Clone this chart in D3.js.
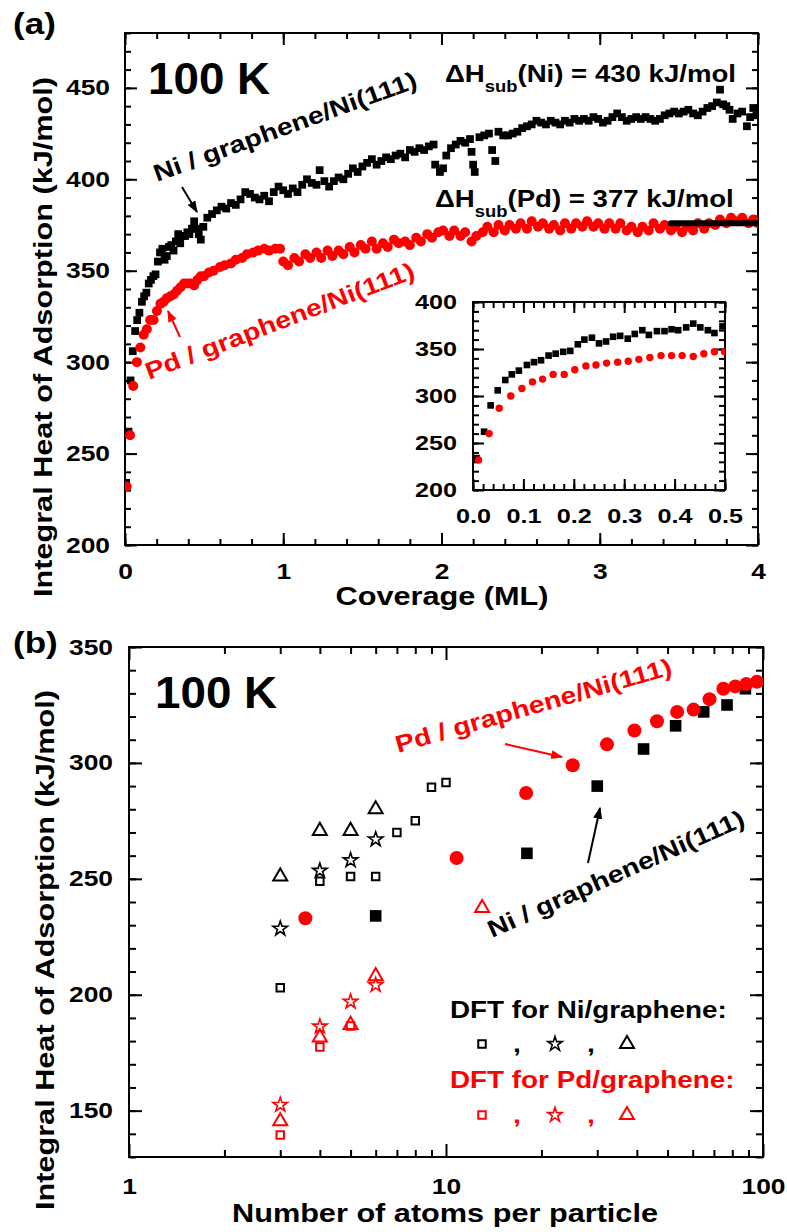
<!DOCTYPE html>
<meta charset="utf-8">
<style>
body { margin: 0; background-color: #fff; }
svg text { font-family: "Liberation Sans", Arial, Helvetica, sans-serif; font-weight: bold; }
</style>
<svg width="787" height="1232"></svg>
<script src="https://d3js.org/d3.v7.min.js"></script>
<script>
// ---------- panel (a): integral heat vs coverage ----------
var niCov = [0.007,0.022,0.035,0.049,0.064,0.077,0.091,0.107,0.121,0.135,0.150,0.164,0.179,0.193,0.208,0.221,0.236,0.250,0.264,0.278,0.292,0.307,0.321,0.336,0.349,0.365,0.380,0.394,0.407,0.423,0.437,0.451,0.466,0.479,0.495,
  0.52,0.55,0.58,0.61,0.64,0.67,0.70,0.73,0.76,0.79,0.82,0.85,0.88,0.91,0.94,0.97,1.00,1.03,1.06,1.09,1.12,1.15,1.18,1.21,1.23,
  1.26,1.29,1.32,1.35,1.38,1.41,1.44,1.47,1.50,1.53,1.56,1.59,1.62,1.65,1.68,1.71,1.74,1.77,1.80,1.83,1.86,1.89,1.92,1.95,
  1.96,1.99,2.01,2.03,2.06,2.09,2.12,2.15,2.18,2.19,2.20,2.21,2.24,2.27,2.30,2.32,2.34,2.36,2.39,2.42,2.45,2.48,
  2.51,2.54,2.57,2.60,2.63,2.66,2.69,2.72,2.75,2.78,2.81,2.84,2.87,2.90,2.93,2.96,2.99,
  3.02,3.05,3.08,3.11,3.14,3.17,3.20,3.23,3.26,3.29,3.32,3.35,3.38,3.41,3.44,3.47,3.50,3.53,3.56,3.59,
  3.62,3.65,3.68,3.71,3.74,3.76,3.78,3.80,3.82,3.84,3.87,3.90,3.93,3.95,3.97,3.99];
var niHeat = [234,262,290,306,317,323,327,333,336,338,343,345,347,348,355,360,362,356,358,363,364,361,366,370,365,369,369,371,370,373,377,373,370,367,374,
  379,381,383,385,384,387,386,389,393,392,390,389,391,388,393,396,394,392,395,393,397,400,398,397,405,
  399,396,399,401,400,403,406,404,407,409,411,408,410,412,411,413,414,412,416,415,417,416,418,419,
  408,404,406,413,417,419,421,420,422,415,408,404,423,424,425,416,410,426,424,424,425,426,
  428,429,430,432,431,430,432,431,430,432,431,433,432,433,432,434,433,
  431,432,434,436,434,432,433,434,433,434,433,432,433,435,436,437,436,437,438,436,
  435,437,439,440,442,449,441,440,438,433,436,437,429,434,439,435];

var pdCov = [0.011,0.032,0.052,0.075,0.097,0.118,0.138,0.159,0.181,0.202,0.224,0.244,0.265,0.287,0.308,0.329,0.351,0.373,0.394,0.415,0.437,0.458,0.479,0.499,
  0.53,0.56,0.60,0.63,0.67,0.70,0.74,0.77,0.81,0.84,0.88,0.91,0.95,0.98,
  1.00,1.03,1.07,1.10,1.14,1.17,1.21,1.24,1.28,1.31,1.35,1.38,1.42,1.45,1.49,1.52,1.56,1.59,1.63,1.66,1.70,1.73,1.77,1.80,1.84,1.87,1.91,1.94,1.98,
  2.01,2.05,2.08,2.12,2.15,2.19,2.22,2.26,2.29,2.33,2.36,2.40,2.43,2.47,2.50,2.54,2.57,2.61,2.64,2.68,2.71,2.75,2.78,2.82,2.85,2.89,2.92,2.96,2.99,
  3.03,3.06,3.10,3.13,3.17,3.20,3.24,3.27,3.31,3.34,3.38,3.41,3.45,3.48,3.52,3.55,3.59,3.62,3.66,3.69,3.73,3.76,3.80,3.83,3.87,3.90,3.94,3.97,4.00];
var pdHeat = [232,260,287,300,308,315,318,323,323,328,332,333,335,336,337,339,341,343,343,343,342,345,347,347,
  349,350,352,353,354,356,357,359,360,361,362,361,362,362,
  355,353,357,355,359,357,360,357,361,358,361,359,363,360,364,362,366,362,365,363,367,365,366,364,368,366,370,368,371,
  372,369,372,369,371,366,369,371,374,371,375,372,375,373,376,373,377,374,376,373,375,372,376,373,376,374,377,374,376,
  373,376,373,376,372,374,371,374,372,376,373,375,372,374,371,374,372,376,373,376,375,378,376,379,377,379,376,378,376];

var subNiLabel = "(Ni) = 430 kJ/mol";
var subPdLabel = "(Pd) = 377 kJ/mol";
var subPdCov = [3.45, 4.0];   // black bar marking the Pd sublimation enthalpy
var subPdHeat = 376;

var aXTicks = [0, 1, 2, 3, 4];
var aYTicks = [200, 250, 300, 350, 400, 450];
var insetXTicks = [0, 0.1, 0.2, 0.3, 0.4, 0.5];
var insetYTicks = [200, 250, 300, 350, 400];

// ---------- panel (b): integral heat vs particle size ----------
var niAtoms = [6, 18, 30, 42, 53, 65, 77, 88];
var niAtomsHeat = [234, 261, 290, 306, 316, 322, 325, 332];
var pdAtoms = [3.6, 10.8, 17.9, 25.1, 32.2, 39.3, 46.3, 53.6, 60.4, 67.8, 75, 81.8, 88.6, 95.7];
var pdAtomsHeat = [233, 259, 287, 299, 308, 314, 318, 322, 323, 327.5, 332, 333, 334, 335];

var dftNiSqN = [3, 4, 5, 6, 7, 8, 9, 10];
var dftNiSq = [203, 249, 251, 251, 270, 275, 289.5, 291.5];
var dftNiStarN = [3, 4, 5, 6];
var dftNiStar = [228.5, 253.5, 258, 267];
var dftNiTriN = [3, 4, 5, 6];
var dftNiTri = [251, 270.7, 270.7, 280];
var dftPdSqN = [3, 4, 5];
var dftPdSq = [139.5, 177.5, 186.5];
var dftPdStarN = [3, 4, 5, 6];
var dftPdStar = [152.5, 186.3, 197, 204.2];
var dftPdTriN = [3, 4, 5, 6, 13];
var dftPdTri = [145.4, 181.6, 187, 208, 237.4];

var bXTicks = [1, 10, 100];
var bYTicks = [150, 200, 250, 300, 350];

var RED = "#ff0000";
var svg = d3.select("svg");

var xA = d3.scaleLinear().domain([0, 4]).range([125, 758]);
var yA = d3.scaleLinear().domain([200, 480]).range([545, 33]);
var xI = d3.scaleLinear().domain([0, 0.5]).range([473, 725]);
var yI = d3.scaleLinear().domain([200, 400]).range([490, 302]);
var xB = d3.scaleLog().domain([1, 100]).range([129, 763]);
var yB = d3.scaleLinear().domain([130, 350]).range([1157, 647]);

var defs = svg.append("defs");
[["ahK", "#000"], ["ahR", RED]].forEach(function(m) {
  defs.append("marker").attr("id", m[0]).attr("viewBox", "0 0 10 10")
    .attr("refX", 9).attr("refY", 5).attr("markerWidth", 12).attr("markerHeight", 12)
    .attr("markerUnits", "userSpaceOnUse").attr("orient", "auto")
    .append("path").attr("d", "M0,1.2L10,5L0,8.8Z").attr("fill", m[1]);
});
function clip(id, x, y) {
  defs.append("clipPath").attr("id", id).append("rect")
    .attr("x", x.range()[0]).attr("y", y.range()[1])
    .attr("width", x.range()[1] - x.range()[0]).attr("height", y.range()[0] - y.range()[1]);
}
clip("clipA", xA, yA); clip("clipI", xI, yI); clip("clipB", xB, yB);

function label(g, x, y, str, o) {
  o = o || {};
  return g.append("text")
    .attr("transform", "translate(" + x + "," + y + ") rotate(" + (o.rot || 0) + ") scale(" + (o.sx || 1.18) + ",1)")
    .attr("font-size", o.size || 24)
    .attr("fill", o.color || "#000")
    .attr("text-anchor", o.anchor || "start")
    .text(str);
}

function axes(g, x, y, o) {
  var xl = x.range()[0], xr = x.range()[1], yb = y.range()[0], yt = y.range()[1];
  g.append("rect").attr("x", xl).attr("y", yt).attr("width", xr - xl).attr("height", yb - yt)
    .attr("fill", o.fill || "none").attr("stroke", "#000").attr("stroke-width", 2);
  var sides = [
    [d3.axisBottom(x), 0, yb, o.xMajor, o.xMinor, o.xFmt, o.xPad],
    [d3.axisTop(x), 0, yt, o.xMajor, o.xMinor, null, 0],
    [d3.axisLeft(y), xl, 0, o.yMajor, o.yMinor, o.yFmt, o.yPad],
    [d3.axisRight(y), xr, 0, o.yMajor, o.yMinor, null, 0]
  ];
  sides.forEach(function(s) {
    [[s[4], o.minorLen, null], [s[3], o.majorLen, s[5]]].forEach(function(t) {
      var ax = s[0].tickValues(t[0]).tickSize(-t[1]).tickSizeOuter(0).tickPadding(s[6])
        .tickFormat(t[2] || function() { return ""; });
      var sel = g.append("g").attr("transform", "translate(" + s[1] + "," + s[2] + ")").call(ax)
        .attr("font-family", null).attr("font-size", null);
      sel.select(".domain").remove();
      sel.selectAll("line").attr("stroke", "#000").attr("stroke-width", 2);
      sel.selectAll("text").attr("font-size", o.fontSize).attr("fill", "#000")
        .attr("transform", function() {
          var xx = +d3.select(this).attr("x") || 0;
          return "translate(" + xx + ",0) scale(1.2,1) translate(" + (-xx) + ",0)";
        });
    });
  });
}

var sq = function(size) { return d3.symbol().type(d3.symbolSquare).size(size)(); };
var star = function(size) { return d3.symbol().type(d3.symbolStar).size(size)(); };
var tri = function(size) { return d3.symbol().type(d3.symbolTriangle).size(size)(); };

function points(g, xs, ys, x, y, path, fill, stroke, sw) {
  g.selectAll(null).data(xs).enter().append("path")
    .attr("d", path)
    .attr("transform", function(d, i) { return "translate(" + x(d) + "," + y(ys[i]) + ")"; })
    .attr("fill", fill).attr("stroke", stroke || "none").attr("stroke-width", stroke ? (sw || 2) : 0)
    .attr("stroke-linejoin", "miter");
}
function dots(g, xs, ys, x, y, r, fill) {
  g.selectAll(null).data(xs).enter().append("circle")
    .attr("cx", function(d) { return x(d); })
    .attr("cy", function(d, i) { return y(ys[i]); })
    .attr("r", r).attr("fill", fill);
}

// ================= panel (a) =================
var gA = svg.append("g");
axes(gA, xA, yA, {
  xMajor: aXTicks, xMinor: d3.range(0, 4.01, 0.2), yMajor: aYTicks, yMinor: d3.range(200, 481, 10),
  majorLen: 12, minorLen: 6, fontSize: 22, xPad: 18, yPad: 15,
  xFmt: d3.format("d"), yFmt: d3.format("d")
});
var dA = gA.append("g").attr("clip-path", "url(#clipA)");
points(dA, niCov, niHeat, xA, yA, sq(60), "#000");
dots(dA, pdCov, pdHeat, xA, yA, 5, RED);
dA.append("line")
  .attr("x1", xA(subPdCov[0])).attr("x2", xA(subPdCov[1]))
  .attr("y1", yA(subPdHeat)).attr("y2", yA(subPdHeat))
  .attr("stroke", "#000").attr("stroke-width", 6).attr("stroke-linecap", "round");

// inset
var gI = svg.append("g");
axes(gI, xI, yI, {
  fill: "#fff",
  xMajor: insetXTicks, xMinor: d3.range(0, 0.501, 0.02), yMajor: insetYTicks, yMinor: d3.range(200, 401, 10),
  majorLen: 11, minorLen: 6, fontSize: 21, xPad: 18, yPad: 16,
  xFmt: d3.format(".1f"), yFmt: d3.format("d")
});
var dI = gI.append("g").attr("clip-path", "url(#clipI)");
var inNi = niCov.map(function(c, i) { return i; }).filter(function(i) { return niCov[i] <= 0.5; });
var inPd = pdCov.map(function(c, i) { return i; }).filter(function(i) { return pdCov[i] <= 0.5; });
points(dI, inNi.map(function(i) { return niCov[i]; }), inNi.map(function(i) { return niHeat[i]; }), xI, yI, sq(44), "#000");
dots(dI, inPd.map(function(i) { return pdCov[i]; }), inPd.map(function(i) { return pdHeat[i]; }), xI, yI, 3.7, RED);

// texts (a)
label(gA, 13, 34, "(a)", { size: 30, sx: 1.17 });
label(gA, 148, 94, "100 K", { size: 44, sx: 1.04 });
label(gA, 52, 337, "Integral Heat of Adsorption (kJ/mol)", { size: 26, rot: -90, anchor: "middle" });
label(gA, 442, 605, "Coverage (ML)", { size: 26, anchor: "middle" });
label(gA, 157, 182, "Ni / graphene/Ni(111)", { rot: -20 });
label(gA, 149, 380, "Pd / graphene/Ni(111)", { rot: -21, color: RED });

function subText(g, x, y, tail) {
  var t = g.append("text").attr("transform", "translate(" + x + "," + y + ") scale(1.15,1)")
    .attr("font-size", 24).attr("fill", "#000");
  t.append("tspan").text("\u0394H");
  t.append("tspan").attr("font-size", 16).attr("dy", 10).text("sub");
  t.append("tspan").attr("dy", -10).text(tail);
}
subText(gA, 445, 82, subNiLabel);
subText(gA, 435, 207, subPdLabel);

gA.append("line").attr("x1", 182).attr("y1", 187).attr("x2", 197).attr("y2", 212)
  .attr("stroke", "#000").attr("stroke-width", 2).attr("marker-end", "url(#ahK)");
gA.append("line").attr("x1", 180).attr("y1", 337).attr("x2", 168).attr("y2", 311)
  .attr("stroke", RED).attr("stroke-width", 2).attr("marker-end", "url(#ahR)");

// ================= panel (b) =================
var gB = svg.append("g");
var logMinor = [2, 3, 4, 5, 6, 7, 8, 9, 20, 30, 40, 50, 60, 70, 80, 90];
axes(gB, xB, yB, {
  xMajor: bXTicks, xMinor: logMinor, yMajor: bYTicks, yMinor: d3.range(130, 351, 10),
  majorLen: 13, minorLen: 7, fontSize: 22, xPad: 21, yPad: 16,
  xFmt: d3.format("d"), yFmt: d3.format("d")
});
var dB = gB.append("g").attr("clip-path", "url(#clipB)");
points(dB, niAtoms, niAtomsHeat, xB, yB, sq(135), "#000");
dots(dB, pdAtoms, pdAtomsHeat, xB, yB, 7, RED);
points(dB, dftNiSqN, dftNiSq, xB, yB, sq(56), "none", "#000");
points(dB, dftNiStarN, dftNiStar, xB, yB, star(65), "none", "#000", 1.6);
points(dB, dftNiTriN, dftNiTri, xB, yB, tri(85), "none", "#000");
points(dB, dftPdSqN, dftPdSq, xB, yB, sq(56), "none", RED);
points(dB, dftPdStarN, dftPdStar, xB, yB, star(65), "none", RED, 1.6);
points(dB, dftPdTriN, dftPdTri, xB, yB, tri(85), "none", RED);

label(gB, 13, 653, "(b)", { size: 30, sx: 1.17 });
label(gB, 155, 708, "100 K", { size: 44, sx: 1.04 });
label(gB, 54, 950, "Integral Heat of Adsorption (kJ/mol)", { size: 26, rot: -90, anchor: "middle" });
label(gB, 445, 1222, "Number of atoms per particle", { size: 26, anchor: "middle" });
label(gB, 398, 753, "Pd / graphene/Ni(111)", { rot: -16, color: RED });
label(gB, 492, 938, "Ni / graphene/Ni(111)", { rot: -24 });

gB.append("line").attr("x1", 505).attr("y1", 744).attr("x2", 562).attr("y2", 757)
  .attr("stroke", RED).attr("stroke-width", 2).attr("marker-end", "url(#ahR)");
gB.append("line").attr("x1", 588).attr("y1", 863).attr("x2", 600).attr("y2", 808)
  .attr("stroke", "#000").attr("stroke-width", 2).attr("marker-end", "url(#ahK)");

// legend
label(gB, 450, 1018, "DFT for Ni/graphene:", { sx: 1.16 });
label(gB, 450, 1088, "DFT for Pd/graphene:", { sx: 1.16, color: RED });
[[1044, "#000"], [1115, RED]].forEach(function(row) {
  var yy = row[0], c = row[1];
  gB.append("path").attr("d", sq(56)).attr("transform", "translate(482," + yy + ")")
    .attr("fill", "none").attr("stroke", c).attr("stroke-width", 2);
  gB.append("path").attr("d", star(65)).attr("transform", "translate(555," + yy + ")")
    .attr("fill", "none").attr("stroke", c).attr("stroke-width", 1.6);
  gB.append("path").attr("d", tri(85)).attr("transform", "translate(627," + yy + ")")
    .attr("fill", "none").attr("stroke", c).attr("stroke-width", 2);
  label(gB, 517, yy + 8, ",", { color: c, anchor: "middle" });
  label(gB, 591, yy + 8, ",", { color: c, anchor: "middle" });
});
</script>
